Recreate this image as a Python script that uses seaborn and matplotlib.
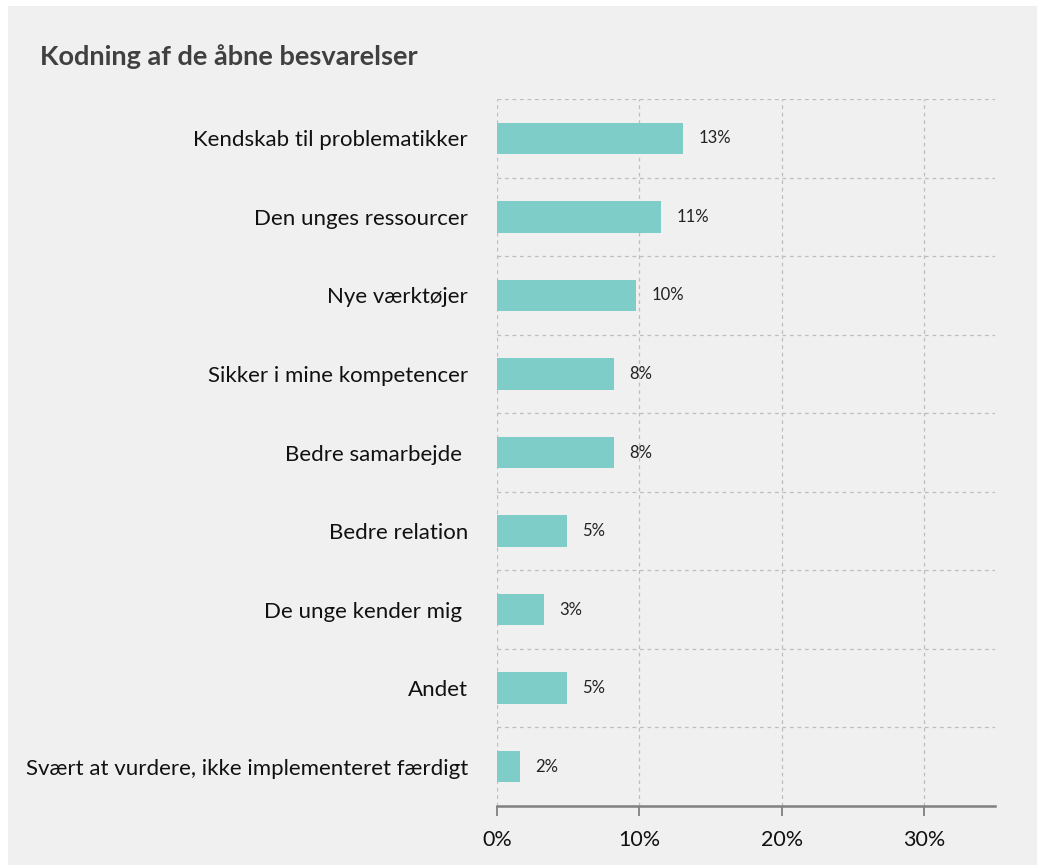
import matplotlib
matplotlib.use("Agg")
import matplotlib.pyplot as plt
import seaborn as sns
import pandas as pd
from matplotlib.patches import Rectangle
from matplotlib.ticker import FixedLocator

# data
categories = ["Kendskab til problematikker", "Den unges ressourcer", "Nye værktøjer",
              "Sikker i mine kompetencer", "Bedre samarbejde ", "Bedre relation",
              "De unge kender mig ", "Andet", "Svært at vurdere, ikke implementeret færdigt"]
values = [13.1, 11.5, 9.8, 8.2, 8.2, 4.9, 3.3, 4.9, 1.6]
labels = ["13%", "11%", "10%", "8%", "8%", "5%", "3%", "5%", "2%"]
xticks = [0, 10, 20, 30]
xticklabels = ["0%", "10%", "20%", "30%"]

df = pd.DataFrame({"kategori": categories, "andel": values})

sns.set_style("white")
plt.rcParams["font.family"] = ["Lato", "DejaVu Sans"]

fig = plt.figure(figsize=(10.37, 8.65), dpi=100)
fig.patch.set_facecolor("white")
# grey panel behind everything
fig.patches.append(Rectangle((8 / 1037, 0), 1, 1 - 6 / 865, transform=fig.transFigure,
                             facecolor="#f0f0f0", edgecolor="none", zorder=-10))

ax = fig.add_axes([497 / 1037, 1 - 806 / 865, (995 - 497) / 1037, (806 - 99) / 865])
ax.set_facecolor("#f0f0f0")

sns.barplot(data=df, x="andel", y="kategori", orient="h", color="#7fcdc9",
            saturation=1, width=0.4, linewidth=0, ax=ax, zorder=3)

for i, (v, lab) in enumerate(zip(values, labels)):
    ax.text(v + 1.1, i, lab, va="center", ha="left", fontsize=12, color="#222222")

ax.set_xlim(0, 35)
ax.set_ylim(len(categories) - 0.5, -0.5)
ax.set_xticks(xticks)
ax.set_xticklabels(xticklabels, fontsize=15.5, color="#111111")
ax.yaxis.set_minor_locator(FixedLocator([i - 0.5 for i in range(len(categories) + 1)]))
ax.tick_params(axis="y", which="both", length=0, pad=21, labelsize=16, labelcolor="#111111")
ax.tick_params(axis="x", which="major", length=7, width=1.3, color="#808080", pad=10,
               direction="out", bottom=True)
ax.set_xlabel("")
ax.set_ylabel("")

ax.grid(axis="x", which="major", color="#bdbdbd", linestyle=(0, (3, 3)), linewidth=0.9, zorder=0)
ax.grid(axis="y", which="minor", color="#bdbdbd", linestyle=(0, (3, 3)), linewidth=0.9, zorder=0)
ax.grid(axis="y", which="major", visible=False)
ax.set_axisbelow(True)

for s in ["top", "right", "left"]:
    ax.spines[s].set_visible(False)
ax.spines["bottom"].set_color("#808080")
ax.spines["bottom"].set_linewidth(1.8)

fig.text(40 / 1037, 1 - 57 / 865, "Kodning af de åbne besvarelser", fontsize=19.5,
         fontweight="bold", color="#404040", va="center", ha="left")

fig.savefig("out.png", dpi=100, facecolor=fig.get_facecolor())
